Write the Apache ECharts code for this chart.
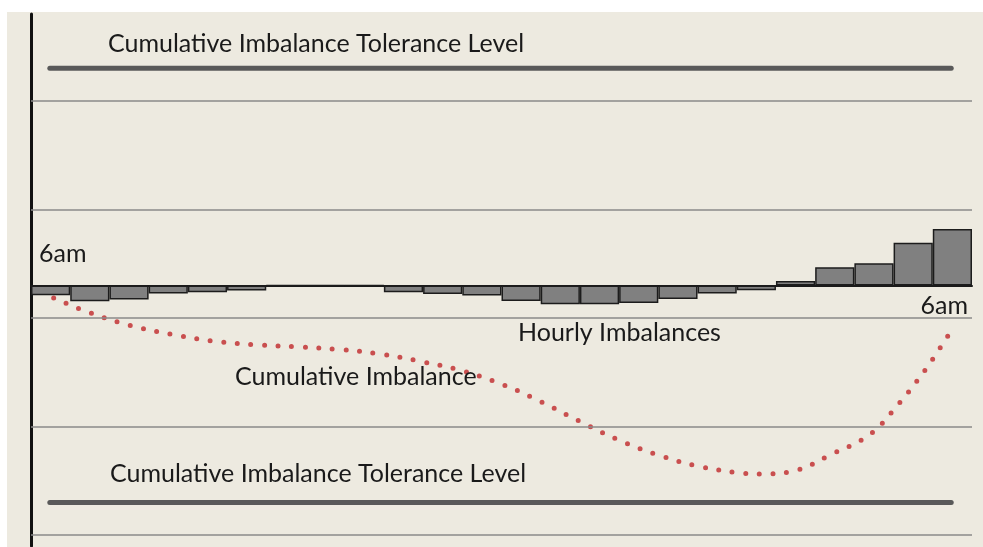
<!DOCTYPE html>
<html>
<head>
<meta charset="utf-8">
<title>Hourly and cumulative imbalance</title>
<script src="https://cdn.jsdelivr.net/npm/echarts@6/dist/echarts.min.js"></script>
<style>
  html, body { margin: 0; padding: 0; background: #ffffff; }
  #chart { width: 983px; height: 547px; }
</style>
</head>
<body>
<div id="chart"></div>
<script>
// hours from 6am to 6am
var hours = ["6am", "7am", "8am", "9am", "10am", "11am", "12pm", "1pm", "2pm", "3pm", "4pm", "5pm",
  "6pm", "7pm", "8pm", "9pm", "10pm", "11pm", "12am", "1am", "2am", "3am", "4am", "5am"];
// hourly imbalance per hour
var hourlyImbalance = [-0.9, -1.45, -1.3, -0.75, -0.62, -0.47, 0, 0, 0, -0.62, -0.78, -0.93,
  -1.43, -1.74, -1.74, -1.62, -1.24, -0.74, -0.44, 0.4, 1.67, 2.04, 3.93, 5.2];
// cumulative imbalance, [hour, value]
var cumulativeHour = [0.26, 0.5, 1.5, 2.52, 3.59, 4.63, 5.71, 6.78, 7.86, 8.92, 9.98, 11.01, 12.03,
  13.01, 13.98, 14.95, 15.95, 16.99, 18.04, 18.6, 19.47, 20.45, 21.4, 22.13, 22.79, 23.39];
var cumulativeValue = [-0.61, -1.04, -2.51, -3.67, -4.5, -5.12, -5.46, -5.65, -5.9, -6.32, -7.03, -7.88, -9.13,
  -10.71, -12.49, -14.18, -15.56, -16.63, -17.25, -17.37, -17.07, -15.5, -13.71, -10.9, -7.86, -4.63];
// tolerance level (plus / minus) and where its lines start and end
var toleranceLevel = 20;
var toleranceSpan = [0.48, 23.47];
// horizontal grid lines
var gridLevels = [17, 7, -3, -13, -23];

var labelFont = "25px Lato";
var labelColor = "#1a1a1a";

var myChart = echarts.init(document.getElementById("chart"));

var cumulativeData = cumulativeHour.map(function(h, i) {
  return [h, cumulativeValue[i]];
});

let option = {
  backgroundColor: "#edeae0",
  animation: false,
  grid: {
    left: 31,
    right: 11,
    top: 14,
    bottom: 1
  },
  xAxis: [
    {
      type: "category",
      data: hours,
      axisLine: { show: true, onZero: true, lineStyle: { color: "#1a1a1a", width: 2 } },
      axisTick: { show: false },
      axisLabel: { show: false },
      splitLine: { show: false }
    },
    {
      type: "value",
      min: 0,
      max: 24,
      show: false
    }
  ],
  yAxis: {
    type: "value",
    min: -24,
    max: 25,
    axisLine: { show: true, lineStyle: { color: "#111111", width: 3 } },
    axisTick: { show: false },
    axisLabel: { show: false },
    splitLine: { show: false }
  },
  graphic: [
    // white page margin round the chart
    { type: "rect", shape: { x: 0, y: 0, width: 983, height: 12 }, style: { fill: "#ffffff" }, z: 100 },
    { type: "rect", shape: { x: 0, y: 0, width: 7, height: 547 }, style: { fill: "#ffffff" }, z: 100 },
    {
      type: "text", x: 108, y: 44, z: 100,
      style: { text: "Cumulative Imbalance Tolerance Level", font: labelFont, fill: labelColor, verticalAlign: "middle" }
    },
    {
      type: "text", x: 110, y: 474, z: 100,
      style: { text: "Cumulative Imbalance Tolerance Level", font: labelFont, fill: labelColor, verticalAlign: "middle" }
    },
    {
      type: "text", x: 39, y: 254, z: 100,
      style: { text: "6am", font: labelFont, fill: labelColor, verticalAlign: "middle" }
    },
    {
      type: "text", x: 968, y: 306, z: 100,
      style: { text: "6am", font: labelFont, fill: labelColor, align: "right", verticalAlign: "middle" }
    },
    {
      type: "text", x: 518, y: 333, z: 100,
      style: { text: "Hourly Imbalances", font: labelFont, fill: labelColor, verticalAlign: "middle" }
    },
    {
      type: "text", x: 235, y: 377, z: 100,
      style: { text: "Cumulative Imbalance", font: labelFont, fill: labelColor, verticalAlign: "middle" }
    }
  ],
  series: [
    {
      name: "Cumulative Imbalance",
      type: "line",
      xAxisIndex: 1,
      data: cumulativeData,
      smooth: 0.4,
      showSymbol: false,
      z: 2,
      lineStyle: {
        color: "#c94f4f",
        width: 5,
        type: [0, 13.6],
        cap: "round"
      },
      // grid lines
      markLine: {
        silent: true,
        symbol: "none",
        label: { show: false },
        lineStyle: { color: "#8a8a8a", width: 1.5, type: "solid" },
        data: gridLevels.map(function(v) { return { yAxis: v }; })
      }
    },
    {
      name: "Hourly Imbalances",
      type: "bar",
      data: hourlyImbalance,
      barWidth: "100%",
      z: 3,
      itemStyle: {
        color: "#808080",
        borderColor: "#1c1c1c",
        borderWidth: 1.5
      }
    },
    {
      name: "Upper Tolerance",
      type: "line",
      xAxisIndex: 1,
      data: [[toleranceSpan[0], toleranceLevel], [toleranceSpan[1], toleranceLevel]],
      showSymbol: false,
      lineStyle: { color: "#595959", width: 5, cap: "round" }
    },
    {
      name: "Lower Tolerance",
      type: "line",
      xAxisIndex: 1,
      data: [[toleranceSpan[0], -toleranceLevel], [toleranceSpan[1], -toleranceLevel]],
      showSymbol: false,
      lineStyle: { color: "#595959", width: 5, cap: "round" }
    }
  ]
};
myChart.setOption(option);
</script>
</body>
</html>
